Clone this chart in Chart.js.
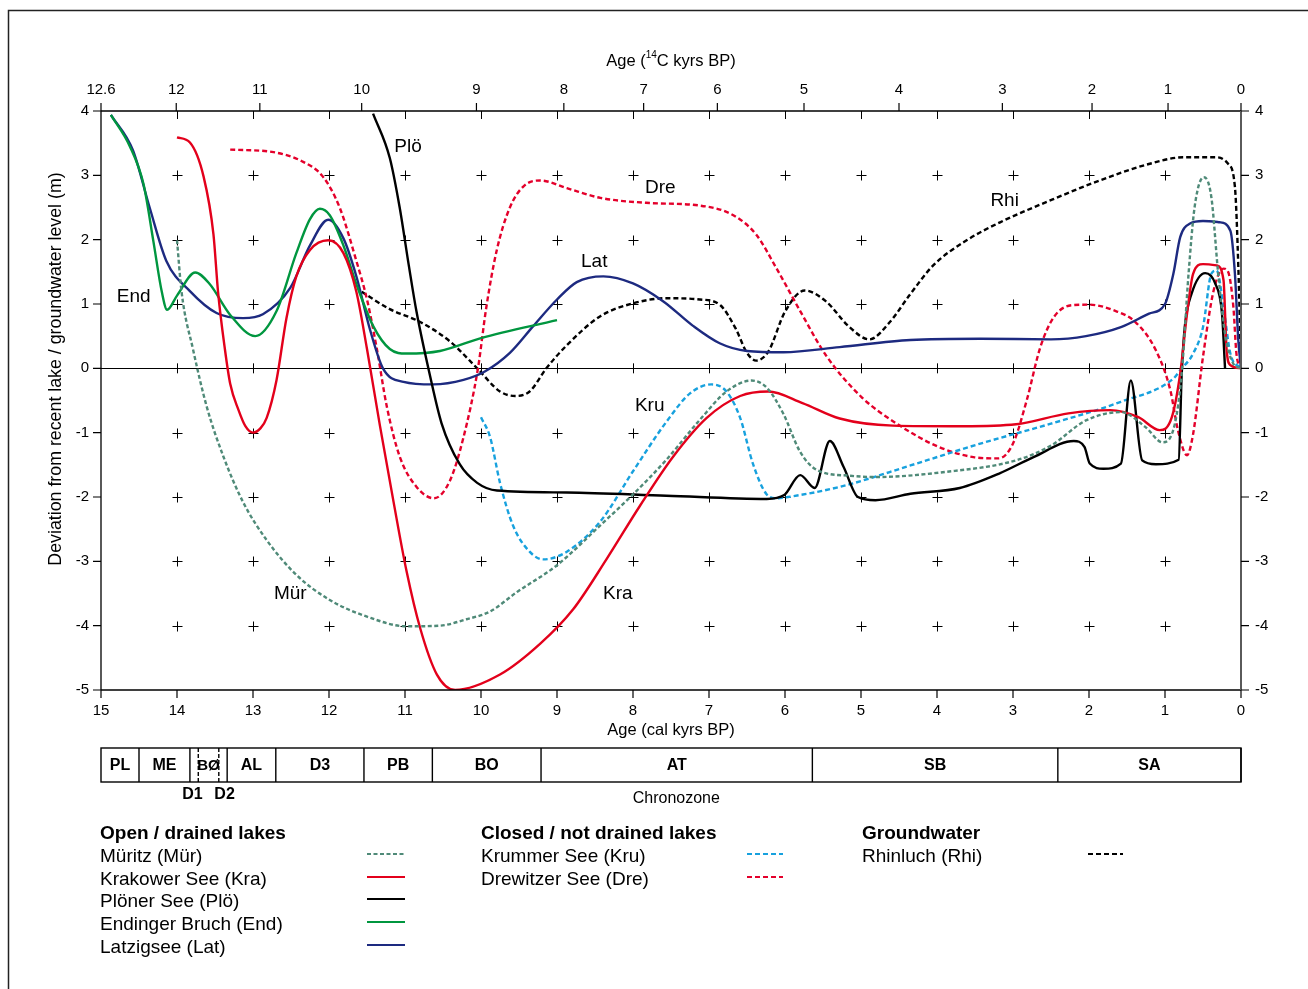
<!DOCTYPE html>
<html>
<head>
<meta charset="utf-8">
<script src="https://cdn.jsdelivr.net/npm/chart.js@4.4.1/dist/chart.umd.min.js"></script>
<style>
  html, body { margin: 0; padding: 0; background: #fff; overflow: hidden; }
  canvas { display: block; }
</style>
</head>
<body>
<canvas id="lakeChart" width="1308" height="989"></canvas>
<script>
// cal kyrs BP / deviation in m
const muritz = [[14.0,1.99],[13.94,1.19],[13.79,0.3],[13.61,-0.59],[13.39,-1.37],[13.13,-2.08],[12.82,-2.67],[12.43,-3.21],[11.99,-3.6],[11.5,-3.86],[10.98,-4.01],[10.54,-4.0],[10.19,-3.9],[9.88,-3.78],[9.53,-3.48],[9.0,-3.06],[8.43,-2.44],[8.0,-1.96],[7.56,-1.42],[7.12,-0.8],[6.77,-0.36],[6.44,-0.19],[6.24,-0.3],[6.02,-0.71],[5.8,-1.3],[5.58,-1.58],[5.14,-1.67],[4.81,-1.69],[3.89,-1.61],[2.96,-1.43],[2.5,-1.2],[2.04,-0.81],[1.58,-0.68],[1.26,-0.91],[1.03,-1.15],[0.87,-0.86],[0.78,-0.08],[0.69,1.47],[0.61,2.51],[0.49,2.97],[0.39,2.66],[0.3,1.47],[0.21,0.54],[0.1,0.07],[0,0]];
const krakow = [[14.0,3.59],[13.83,3.51],[13.65,2.98],[13.52,2.08],[13.46,1.19],[13.37,0.3],[13.3,-0.24],[13.19,-0.65],[13.1,-0.9],[13.0,-1.0],[12.9,-0.93],[12.82,-0.77],[12.69,-0.18],[12.56,0.78],[12.43,1.43],[12.25,1.84],[12.01,1.99],[11.81,1.79],[11.64,1.19],[11.5,0.3],[11.33,-0.89],[11.15,-2.08],[10.98,-3.15],[10.8,-4.04],[10.58,-4.76],[10.34,-5.0],[9.75,-4.76],[9.22,-4.28],[8.79,-3.75],[8.35,-2.97],[7.91,-2.14],[7.47,-1.37],[7.03,-0.77],[6.59,-0.43],[6.22,-0.36],[5.77,-0.54],[5.28,-0.78],[4.58,-0.89],[3.66,-0.9],[2.96,-0.87],[2.27,-0.7],[1.72,-0.65],[1.35,-0.76],[1.07,-0.96],[0.91,-0.76],[0.8,-0.08],[0.71,0.85],[0.63,1.47],[0.5,1.62],[0.32,1.6],[0.23,1.37],[0.19,0.3],[0.14,0.05],[0,0]];
const ploen = [[11.42,3.96],[11.2,3.27],[11.07,2.5],[10.95,1.6],[10.85,0.89],[10.67,-0.12],[10.52,-0.85],[10.28,-1.49],[10.05,-1.78],[9.79,-1.9],[8.87,-1.93],[7.56,-1.98],[6.24,-2.03],[6.01,-1.97],[5.8,-1.66],[5.61,-1.86],[5.41,-1.13],[5.23,-1.53],[5.04,-2.0],[4.81,-2.05],[4.35,-1.95],[3.7,-1.86],[3.19,-1.64],[2.73,-1.38],[2.2,-1.13],[2.06,-1.22],[1.99,-1.48],[1.81,-1.56],[1.58,-1.48],[1.45,-0.19],[1.3,-1.43],[1.12,-1.49],[0.82,-1.42],[0.78,-0.08],[0.74,0.64],[0.65,1.16],[0.47,1.48],[0.34,1.32],[0.25,0.85],[0.21,0.0]];
const endingen = [[14.87,3.94],[14.62,3.45],[14.44,2.86],[14.31,1.97],[14.2,1.19],[14.13,0.91],[14.0,1.13],[13.76,1.49],[13.57,1.31],[13.3,0.83],[12.97,0.5],[12.69,0.89],[12.43,1.79],[12.25,2.32],[12.12,2.48],[11.99,2.38],[11.81,1.91],[11.64,1.31],[11.42,0.66],[11.2,0.3],[10.98,0.23],[10.54,0.27],[10.0,0.47],[9.0,0.75]];
const latzig = [[14.87,3.94],[14.58,3.39],[14.36,2.5],[14.14,1.67],[13.83,1.2],[13.48,0.86],[13.13,0.78],[12.87,0.84],[12.51,1.25],[12.25,1.91],[12.01,2.31],[11.81,2.02],[11.64,1.43],[11.46,0.6],[11.29,0.0],[11.02,-0.21],[10.63,-0.25],[10.23,-0.18],[9.95,-0.05],[9.62,0.24],[9.31,0.66],[9.0,1.07],[8.74,1.34],[8.39,1.43],[8.0,1.32],[7.6,1.04],[7.21,0.66],[6.86,0.39],[6.5,0.27],[6.02,0.25],[5.28,0.33],[4.35,0.44],[3.43,0.46],[2.5,0.45],[2.04,0.5],[1.58,0.64],[1.21,0.85],[1.0,1.0],[0.89,1.47],[0.8,2.04],[0.67,2.25],[0.5,2.29],[0.28,2.27],[0.14,2.14],[0.08,1.47],[0.035,0.43],[0,0]];
const krummer = [[10.0,-0.76],[9.88,-1.07],[9.75,-1.78],[9.58,-2.44],[9.36,-2.85],[9.18,-2.97],[8.87,-2.85],[8.43,-2.38],[8.0,-1.6],[7.56,-0.83],[7.25,-0.39],[6.97,-0.25],[6.77,-0.36],[6.59,-0.77],[6.42,-1.49],[6.24,-1.96],[6.11,-2.02],[5.96,-2.0],[5.27,-1.84],[4.35,-1.51],[3.43,-1.17],[2.5,-0.86],[1.58,-0.52],[0.89,-0.16],[0.8,-0.03],[0.63,0.23],[0.5,0.64],[0.39,1.47],[0.32,1.52],[0.23,0.95],[0.14,0.23],[0,0]];
const drewitz = [[13.3,3.4],[12.73,3.36],[12.34,3.21],[12.08,2.98],[11.86,2.5],[11.64,1.67],[11.5,1.07],[11.37,0.3],[11.24,-0.59],[11.07,-1.37],[10.85,-1.84],[10.62,-2.02],[10.41,-1.75],[10.23,-1.07],[10.04,0.0],[9.93,0.95],[9.79,1.85],[9.62,2.5],[9.44,2.83],[9.22,2.92],[8.87,2.8],[8.43,2.65],[7.78,2.57],[7.12,2.53],[6.68,2.38],[6.38,2.08],[6.11,1.55],[5.8,0.89],[5.46,0.2],[4.99,-0.45],[4.53,-0.86],[3.98,-1.22],[3.52,-1.38],[3.19,-1.4],[3.0,-1.17],[2.82,-0.5],[2.64,0.33],[2.46,0.8],[2.23,0.98],[2.0,0.99],[1.67,0.9],[1.39,0.72],[1.12,0.28],[0.93,-0.34],[0.83,-0.96],[0.71,-1.35],[0.63,-1.02],[0.5,0.18],[0.36,1.21],[0.23,1.55],[0.17,1.5],[0.1,0.95],[0.06,0.23],[0,0]];
const rhinluch = [[11.57,1.19],[11.2,0.92],[10.8,0.72],[10.41,0.42],[10.05,0.0],[9.75,-0.36],[9.55,-0.43],[9.36,-0.36],[9.14,0.0],[8.87,0.36],[8.43,0.81],[8.0,1.01],[7.56,1.09],[7.12,1.07],[6.85,0.98],[6.65,0.62],[6.5,0.24],[6.38,0.12],[6.22,0.26],[6.0,0.88],[5.74,1.21],[5.46,1.04],[5.16,0.65],[4.89,0.45],[4.62,0.72],[4.36,1.14],[4.05,1.6],[3.61,1.99],[3.17,2.27],[2.51,2.61],[1.86,2.92],[1.2,3.18],[0.76,3.28],[0.32,3.28],[0.17,3.18],[0.08,2.82],[0.035,1.57],[0,0]];

// axes
const calTicks = [15,14,13,12,11,10,9,8,7,6,5,4,3,2,1,0];
const levelTicks = [4,3,2,1,0,-1,-2,-3,-4,-5];
const c14Labels = ["12.6","12","11","10","9","8","7","6","5","4","3","2","1","0"];
const c14CalAge = [15.0,14.01,12.91,11.57,10.06,8.91,7.86,6.89,5.75,4.5,3.14,1.96,0.96,0];

// chronozones (cal kyrs BP boundaries); D1 and D2 sit inside BØ
const zoneNames = ["PL","ME","BØ","AL","D3","PB","BO","AT","SB","SA"];
const zoneStart = [15.0,14.5,13.83,13.34,12.7,11.54,10.64,9.21,5.64,2.41];
const zoneEnd   = [14.5,13.83,13.34,12.7,11.54,10.64,9.21,5.64,2.41,0];
const dashedZoneEdges = [13.72,13.45];

const series = [
  { key: "Mür", name: "Müritz (Mür)", data: muritz, color: "#4f8a78", dash: [4, 2.5], group: 0 },
  { key: "Kra", name: "Krakower See (Kra)", data: krakow, color: "#e3001b", dash: [], group: 0 },
  { key: "Plö", name: "Plöner See (Plö)", data: ploen, color: "#000000", dash: [], group: 0 },
  { key: "End", name: "Endinger Bruch (End)", data: endingen, color: "#00963f", dash: [], group: 0 },
  { key: "Lat", name: "Latzigsee (Lat)", data: latzig, color: "#1d2a80", dash: [], group: 0 },
  { key: "Kru", name: "Krummer See (Kru)", data: krummer, color: "#17a1de", dash: [5, 3], group: 1 },
  { key: "Dre", name: "Drewitzer See (Dre)", data: drewitz, color: "#e4002b", dash: [5, 3], group: 1 },
  { key: "Rhi", name: "Rhinluch (Rhi)", data: rhinluch, color: "#000000", dash: [5, 3], group: 2 }
];
const groupTitles = ["Open / drained lakes", "Closed / not drained lakes", "Groundwater"];

const FONT = '"Liberation Sans", Arial, sans-serif';

const curveLabels = [
  ["Plö", 10.96, 3.44], ["Dre", 7.64, 2.80], ["Lat", 8.51, 1.65], ["Rhi", 3.11, 2.61],
  ["End", 14.57, 1.12], ["Kru", 7.78, -0.58], ["Mür", 12.51, -3.51], ["Kra", 8.2, -3.51]
];

const paper = {
  id: "paper",
  beforeDraw(chart) {
    const c = chart.ctx;
    c.save();
    c.fillStyle = "#fff";
    c.fillRect(0, 0, chart.width, chart.height);
    c.restore();
  },
  beforeDatasetsDraw(chart) {
    const c = chart.ctx, x = chart.scales.x, y = chart.scales.y;
    const L = x.getPixelForValue(15), R = x.getPixelForValue(0);
    const T = y.getPixelForValue(4), Z = y.getPixelForValue(0);
    c.save();
    c.strokeStyle = "#000";
    c.lineWidth = 1;
    // crosses
    for (let k = 1; k <= 14; k++) {
      const px = Math.round(x.getPixelForValue(k)) + 0.5;
      for (const v of [3, 2, 1, -1, -2, -3, -4]) {
        const py = Math.round(y.getPixelForValue(v)) + 0.5;
        c.beginPath();
        c.moveTo(px - 5, py); c.lineTo(px + 5, py);
        c.moveTo(px, py - 5); c.lineTo(px, py + 5);
        c.stroke();
      }
      c.beginPath();
      c.moveTo(px, Z - 5); c.lineTo(px, Z + 5);
      c.moveTo(px, T); c.lineTo(px, T + 8);
      c.stroke();
    }
    // zero line
    c.beginPath();
    c.moveTo(L, Math.round(Z) + 0.5); c.lineTo(R, Math.round(Z) + 0.5);
    c.stroke();
    c.restore();
  },
  afterDatasetsDraw(chart) {
    const c = chart.ctx, x = chart.scales.x, y = chart.scales.y;
    const L = x.getPixelForValue(15), R = x.getPixelForValue(0);
    const T = y.getPixelForValue(4), B = y.getPixelForValue(-5);
    c.save();
    // axes frame
    c.strokeStyle = "#000";
    c.lineWidth = 1.3;
    c.beginPath();
    c.moveTo(L, T); c.lineTo(R, T);
    c.moveTo(L, B); c.lineTo(R, B);
    c.moveTo(L, T); c.lineTo(L, B);
    c.stroke();
    c.strokeStyle = "#5a5a5a";
    c.lineWidth = 2;
    c.beginPath();
    c.moveTo(R, T); c.lineTo(R, B);
    c.stroke();

    c.lineWidth = 1.2;
    c.strokeStyle = "#000";
    c.font = "15px " + FONT;
    c.fillStyle = "#000";
    // left/right ticks
    for (const v of levelTicks) {
      const py = y.getPixelForValue(v);
      c.beginPath();
      c.moveTo(L - 8, py); c.lineTo(L, py);
      c.moveTo(R, py); c.lineTo(R + 8, py);
      c.stroke();
      c.textBaseline = "middle";
      c.textAlign = "right";
      c.fillText(String(v), L - 12, py);
      c.textAlign = "left";
      c.fillText(String(v), R + 14, py);
    }
    // bottom ticks
    c.textAlign = "center";
    for (const k of calTicks) {
      const px = x.getPixelForValue(k);
      c.beginPath();
      c.moveTo(px, B); c.lineTo(px, B + 8);
      c.stroke();
      c.fillText(String(k), px, B + 21);
    }
    // top 14C ticks
    c14Labels.forEach((lab, i) => {
      const px = x.getPixelForValue(c14CalAge[i]);
      c.beginPath();
      c.moveTo(px, T - 8); c.lineTo(px, T);
      c.stroke();
      c.fillText(lab, px, T - 21);
    });

    // axis titles
    c.font = "16.5px " + FONT;
    c.fillText("Age (cal kyrs BP)", (L + R) / 2, B + 40);
    const a = "Age (", b = "14", d = "C kyrs BP)";
    const wa = c.measureText(a).width, wd = c.measureText(d).width;
    c.font = "10px " + FONT;
    const wb = c.measureText(b).width;
    const sx = (L + R) / 2 - (wa + wb + wd) / 2;
    c.textAlign = "left";
    c.font = "16.5px " + FONT;
    c.fillText(a, sx, 61);
    c.font = "10px " + FONT;
    c.fillText(b, sx + wa, 55);
    c.font = "16.5px " + FONT;
    c.fillText(d, sx + wa + wb, 61);
    c.save();
    c.translate(56, 369);
    c.rotate(-Math.PI / 2);
    c.textAlign = "center";
    c.font = "17.8px " + FONT;
    c.fillText("Deviation from recent lake / groundwater level (m)", 0, 0);
    c.restore();

    // curve labels
    c.font = "19px " + FONT;
    c.textAlign = "center";
    for (const [t, ax, lv] of curveLabels) {
      c.fillText(t, x.getPixelForValue(ax), y.getPixelForValue(lv));
    }

    // chronozone bar
    const zt = 748, zb = 782;
    c.lineWidth = 1.4;
    c.strokeStyle = "#000";
    c.strokeRect(L, zt, R - L, zb - zt);
    zoneNames.forEach((n, i) => {
      let p0 = x.getPixelForValue(zoneStart[i]), p1 = x.getPixelForValue(zoneEnd[i]);
      c.beginPath();
      c.moveTo(p1, zt); c.lineTo(p1, zb);
      c.stroke();
      c.font = "bold 16px " + FONT;
      if (n === "BØ") {
        p0 = x.getPixelForValue(dashedZoneEdges[0]);
        p1 = x.getPixelForValue(dashedZoneEdges[1]);
        c.font = "bold 15px " + FONT;
      }
      c.fillText(n, (p0 + p1) / 2, zt + 18);
    });
    c.setLineDash([4, 2]);
    for (const e of dashedZoneEdges) {
      const p = x.getPixelForValue(e);
      c.beginPath();
      c.moveTo(p, zt); c.lineTo(p, zb);
      c.stroke();
    }
    c.setLineDash([]);
    c.font = "bold 16px " + FONT;
    c.fillText("D1", x.getPixelForValue(13.77) - 2, zb + 13);
    c.fillText("D2", x.getPixelForValue(13.4) + 2, zb + 13);
    c.font = "16px " + FONT;
    c.fillText("Chronozone", x.getPixelForValue(7.43), zb + 17);

    // legend
    const colX = [100, 481, 862];
    const sampleX = [[367, 405], [747, 783], [1088, 1123]];
    const rowY = [857, 880, 902, 925, 948];
    c.textAlign = "left";
    groupTitles.forEach((g, gi) => {
      c.font = "bold 19px " + FONT;
      c.fillText(g, colX[gi], 834);
      const members = series.filter(s => s.group === gi);
      members.forEach((s, r) => {
        c.font = "19px " + FONT;
        c.fillStyle = "#000";
        c.fillText(s.name, colX[gi], rowY[r]);
        c.strokeStyle = s.color;
        c.lineWidth = 2.2;
        c.setLineDash(s.dash);
        c.beginPath();
        c.moveTo(sampleX[gi][0], rowY[r] - 3);
        c.lineTo(sampleX[gi][1], rowY[r] - 3);
        c.stroke();
        c.setLineDash([]);
      });
    });

    // page frame
    c.strokeStyle = "#222";
    c.lineWidth = 1.5;
    c.beginPath();
    c.moveTo(8.5, chart.height); c.lineTo(8.5, 10.5); c.lineTo(chart.width, 10.5);
    c.stroke();
    c.restore();
  }
};

new Chart(document.getElementById("lakeChart").getContext("2d"), {
  type: "line",
  data: {
    datasets: series.map(s => ({
      label: s.key,
      data: s.data.map(([a, v]) => ({ x: a, y: v })),
      borderColor: s.color,
      borderDash: s.dash,
      borderWidth: 2.4,
      pointRadius: 0,
      fill: false,
      cubicInterpolationMode: "monotone"
    }))
  },
  options: {
    responsive: false,
    animation: false,
    layout: { padding: { left: 101, right: 67, top: 111, bottom: 299 } },
    scales: {
      x: { type: "linear", reverse: true, min: 0, max: 15, display: false },
      y: { type: "linear", min: -5, max: 4, display: false }
    },
    plugins: { legend: { display: false }, tooltip: { enabled: false } }
  },
  plugins: [paper]
});
</script>
</body>
</html>
